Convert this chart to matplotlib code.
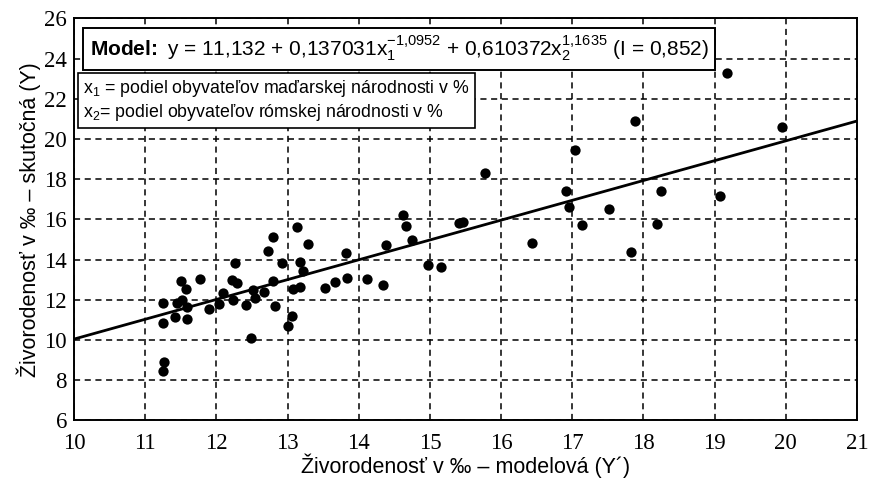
import matplotlib
matplotlib.use("Agg")
import matplotlib.pyplot as plt

# ---- data ----
x_model = [11.25, 11.25, 11.26, 11.25, 11.50, 11.57, 11.45, 11.51, 11.42, 11.59,
           11.59, 11.77, 11.90, 12.04, 12.09, 12.22, 12.29, 12.26, 12.23, 12.41,
           12.48, 12.51, 12.54, 12.67, 12.80, 12.73, 12.80, 12.92, 12.82, 13.13,
           13.28, 13.17, 13.21, 13.07, 13.18, 13.06, 13.00, 13.53, 13.67, 13.83,
           13.82, 14.12, 14.34, 14.38, 14.62, 14.67, 14.75, 14.97, 15.15, 15.41,
           15.47, 15.77, 16.43, 16.91, 16.96, 17.04, 17.13, 17.52, 17.83, 17.88,
           18.19, 18.24, 19.08, 19.18, 19.94]
y_actual = [11.83, 10.87, 8.93, 8.46, 12.94, 12.54, 11.87, 12.00, 11.16, 11.03,
            11.65, 13.02, 11.53, 11.80, 12.33, 12.99, 12.83, 13.85, 12.00, 11.75,
            10.09, 12.49, 12.08, 12.41, 12.94, 14.43, 15.14, 13.85, 11.70, 15.61,
            14.78, 13.90, 13.45, 12.53, 12.66, 11.20, 10.70, 12.61, 12.91, 13.11,
            14.32, 13.04, 12.74, 14.71, 16.22, 15.70, 14.98, 13.72, 13.64, 15.85,
            15.89, 18.29, 14.81, 17.43, 16.62, 19.48, 15.73, 16.50, 14.38, 20.92,
            15.77, 17.44, 17.15, 23.27, 20.62]
line_x = [10, 21]
line_y = [10.05, 20.9]

x_ticks = list(range(10, 22))
y_ticks = list(range(6, 27, 2))

title_text = (r"$\mathbf{Model\!:}$ y = 11,132 + 0,137031x$_1^{-1{,}0952}$"
              r" + 0,610372x$_2^{1{,}1635}$ (I = 0,852)")
legend_text = ("x$_1$ = podiel obyvateľov maďarskej národnosti v %\n"
               "x$_2$= podiel obyvateľov rómskej národnosti v %")
xlabel = "Živorodenosť v ‰ – modelová (Y´)"
ylabel = "Živorodenosť v ‰ – skutočná (Y)"

plt.rcParams["mathtext.fontset"] = "custom"
plt.rcParams["mathtext.rm"] = "Liberation Sans"
plt.rcParams["mathtext.it"] = "Liberation Sans"
plt.rcParams["mathtext.bf"] = "Liberation Sans:bold"
plt.rcParams["font.family"] = ["Liberation Sans", "DejaVu Sans"]

fig = plt.figure(figsize=(8.69, 4.78), dpi=100)
ax = fig.add_axes([0.0852, 0.1203, 0.9010, 0.8410])

ax.set_xlim(10, 21)
ax.set_ylim(6, 26)
ax.set_xticks(x_ticks)
ax.set_yticks(y_ticks)
ax.grid(True, color="black", linestyle=(0, (4, 3)), linewidth=1.1)
ax.set_axisbelow(True)
ax.tick_params(axis="y", length=0, pad=5)
ax.tick_params(axis="x", length=0, pad=9)
for lab in ax.get_xticklabels() + ax.get_yticklabels():
    lab.set_fontfamily("Liberation Serif")
    lab.set_fontsize(16.5)
for s in ax.spines.values():
    s.set_linewidth(1.4)

ax.plot(line_x, line_y, color="black", linewidth=2.0, zorder=3)
ax.scatter(x_model, y_actual, s=55, color="black", zorder=4, linewidths=0)

ax.text(0.02, 0.924, title_text, transform=ax.transAxes, fontsize=15,
        va="center", ha="left", zorder=6,
        bbox=dict(boxstyle="square,pad=0.3", facecolor="white",
                  edgecolor="black", linewidth=1.4))
ax.text(0.012, 0.796, legend_text, transform=ax.transAxes, fontsize=12.8,
        va="center", ha="left", zorder=6, linespacing=1.15,
        bbox=dict(boxstyle="square,pad=0.3", facecolor="white",
                  edgecolor="black", linewidth=1.2))

ax.set_xlabel(xlabel, fontsize=15.5, labelpad=0)
ax.set_ylabel(ylabel, fontsize=15.5, labelpad=2)

fig.savefig("out.png", dpi=100)
